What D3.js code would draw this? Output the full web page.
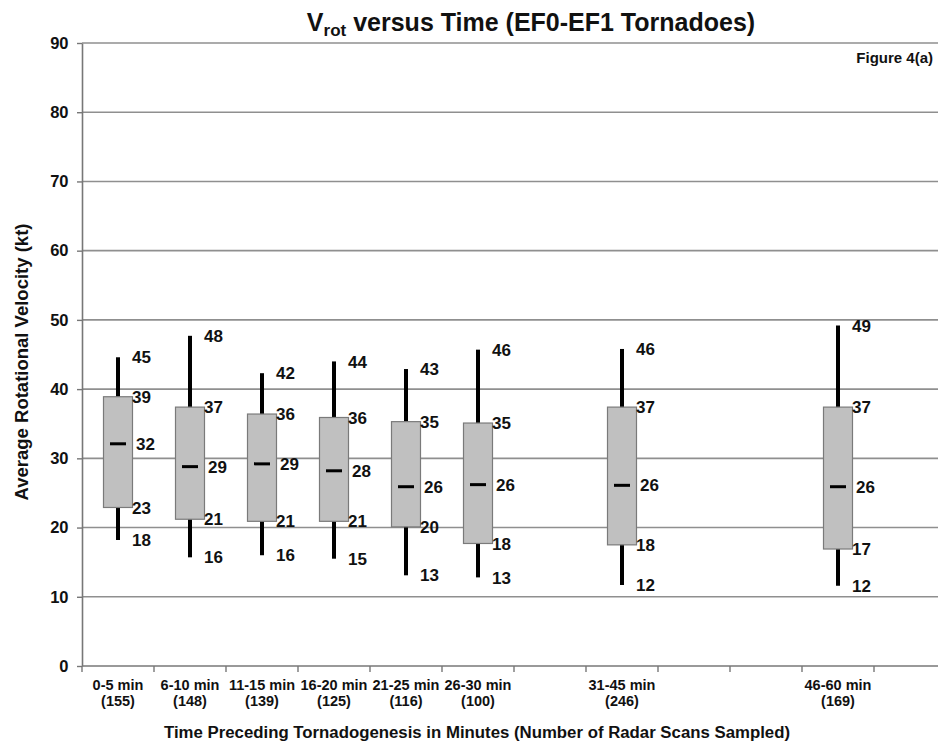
<!DOCTYPE html>
<html>
<head>
<meta charset="utf-8">
<script src="https://cdn.jsdelivr.net/npm/d3@7"></script>
<style>
  body { margin: 0; background: #fff; }
  svg { display: block; font-family: "Liberation Sans", Arial, sans-serif; font-weight: bold; }
</style>
</head>
<body>
<svg id="chart" width="938" height="749"></svg>
<script>
// ---- data ----
const slots = ["s0","s1","s2","s3","s4","s5","s6","s7","s8","s9","s10","s11"];
const categories = ["0-5 min","6-10 min","11-15 min","16-20 min","21-25 min","26-30 min","31-45 min","46-60 min"];
const scanCounts = ["(155)","(148)","(139)","(125)","(116)","(100)","(246)","(169)"];
const slotIndex = [0,1,2,3,4,5,7,10];
const whiskerHigh = [44.6, 47.7, 42.3, 44.0, 42.9, 45.7, 45.8, 49.2];
const q3 = [38.9, 37.4, 36.4, 35.9, 35.3, 35.1, 37.4, 37.4];
const median = [32.1, 28.8, 29.2, 28.2, 25.9, 26.2, 26.1, 25.9];
const q1 = [22.9, 21.2, 20.9, 20.9, 20.1, 17.7, 17.5, 16.9];
const whiskerLow = [18.2, 15.7, 16.0, 15.5, 13.1, 12.8, 11.7, 11.6];
const labHigh = [45, 48, 42, 44, 43, 46, 46, 49];
const labQ3 = [39, 37, 36, 36, 35, 35, 37, 37];
const labMed = [32, 29, 29, 28, 26, 26, 26, 26];
const labQ1 = [23, 21, 21, 21, 20, 18, 18, 17];
const labLow = [18, 16, 16, 15, 13, 13, 12, 12];
const yTicks = [0,10,20,30,40,50,60,70,80,90];

// ---- layout ----
const svg = d3.select("#chart");
const mL = 82, mR = 946, mT = 43, mB = 666;
const x = d3.scaleBand().domain(slots).range([mL, mR]).padding(0);
const y = d3.scaleLinear().domain([0, 90]).range([mB, mT]);

// gridlines
svg.append("g").selectAll("line").data(yTicks.filter(d => d > 0)).join("line")
  .attr("x1", mL).attr("x2", 938)
  .attr("y1", d => y(d)).attr("y2", d => y(d))
  .attr("stroke", "#8f8f8f").attr("stroke-width", 1.6);

// y axis
const yAxis = svg.append("g").attr("transform", `translate(${mL},0)`)
  .call(d3.axisLeft(y).tickValues(yTicks).tickSize(5).tickSizeOuter(0).tickPadding(9));
yAxis.select(".domain").attr("stroke", "#777").attr("stroke-width", 1.6);
yAxis.selectAll(".tick line").attr("stroke", "#777").attr("stroke-width", 1.4);
yAxis.selectAll(".tick text").attr("font-size", 16.5).attr("font-weight", "bold")
  .attr("font-family", "Liberation Sans, Arial, sans-serif").attr("fill", "#111")
  .attr("x", -13.5);

// x axis line + ticks at band boundaries
svg.append("line").attr("x1", mL).attr("x2", 938).attr("y1", mB).attr("y2", mB)
  .attr("stroke", "#777").attr("stroke-width", 1.6);
svg.append("g").selectAll("line").data(slots).join("line")
  .attr("x1", d => x(d)).attr("x2", d => x(d))
  .attr("y1", mB).attr("y2", mB + 6)
  .attr("stroke", "#777").attr("stroke-width", 1.4);

// category labels
const catG = svg.append("g");
categories.forEach((c, i) => {
  const cx = x(slots[slotIndex[i]]) + x.bandwidth() / 2;
  catG.append("text").attr("x", cx).attr("y", 690).attr("text-anchor", "middle")
    .attr("font-size", 14.5).attr("fill", "#111").text(c);
  catG.append("text").attr("x", cx).attr("y", 706).attr("text-anchor", "middle")
    .attr("font-size", 14.5).attr("fill", "#111").text(scanCounts[i]);
});

// boxes
const boxW = 29;
const g = svg.append("g");
categories.forEach((c, i) => {
  const cx = x(slots[slotIndex[i]]) + x.bandwidth() / 2;
  g.append("line").attr("x1", cx).attr("x2", cx)
    .attr("y1", y(whiskerHigh[i])).attr("y2", y(whiskerLow[i]))
    .attr("stroke", "#000").attr("stroke-width", 4);
  g.append("rect").attr("x", cx - boxW / 2).attr("y", y(q3[i]))
    .attr("width", boxW).attr("height", y(q1[i]) - y(q3[i]))
    .attr("fill", "#c0c0c0").attr("stroke", "#7a7a7a").attr("stroke-width", 1.2);
  g.append("line").attr("x1", cx - 8).attr("x2", cx + 8)
    .attr("y1", y(median[i])).attr("y2", y(median[i]))
    .attr("stroke", "#000").attr("stroke-width", 3);
  const lab = (val, txt, dx) => g.append("text").attr("x", cx + dx).attr("y", y(val))
    .attr("dy", "0.36em").attr("font-size", 17).attr("fill", "#111").text(txt);
  lab(whiskerHigh[i], labHigh[i], 14);
  lab(q3[i], labQ3[i], 14);
  lab(median[i], labMed[i], 18);
  lab(q1[i], labQ1[i], 14);
  lab(whiskerLow[i], labLow[i], 14);
});

// title
const title = svg.append("text").attr("x", 531).attr("y", 31).attr("text-anchor", "middle")
  .attr("font-size", 25).attr("fill", "#111");
title.append("tspan").text("V");
title.append("tspan").attr("font-size", 17).attr("dy", 5).text("rot");
title.append("tspan").attr("dy", -5).text(" versus Time (EF0-EF1 Tornadoes)");

svg.append("text").attr("x", 933).attr("y", 63).attr("text-anchor", "end")
  .attr("font-size", 15).attr("fill", "#111").text("Figure 4(a)");

// axis titles
svg.append("text").attr("transform", "translate(28,362) rotate(-90)").attr("text-anchor", "middle")
  .attr("font-size", 18.5).attr("fill", "#111").text("Average Rotational Velocity (kt)");
svg.append("text").attr("x", 477).attr("y", 738).attr("text-anchor", "middle")
  .attr("font-size", 16.8).attr("fill", "#111")
  .text("Time Preceding Tornadogenesis in Minutes (Number of Radar Scans Sampled)");
</script>
</body>
</html>
